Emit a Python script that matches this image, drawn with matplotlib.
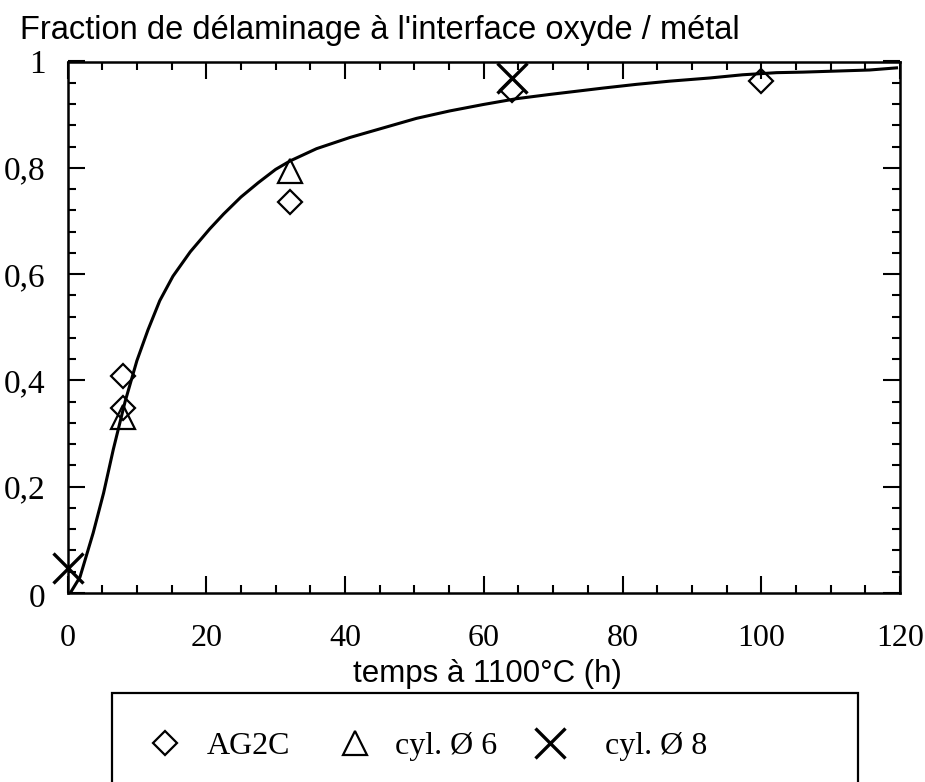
import matplotlib
matplotlib.use("Agg")
import matplotlib.pyplot as plt
from matplotlib.patches import Rectangle
from matplotlib.ticker import MultipleLocator, FuncFormatter

# Data
t_curve = [0.4, 1.8, 3.7, 5.2, 6.6, 8.3, 10.0, 11.6, 13.3, 15.2, 17.7, 20.5, 22.5, 25.0,
           27.5, 30.0, 32.1, 35.9, 40.7, 45.5, 50.3, 55.1, 59.9, 64.7, 69.5,
           77.2, 82.0, 86.8, 92.6, 97.3, 102.2, 106.0, 110.8, 115.6, 119.5]
f_curve = [0.0, 0.030, 0.113, 0.188, 0.270, 0.360, 0.437, 0.495, 0.550, 0.596, 0.642, 0.685, 0.713, 0.745,
           0.772, 0.797, 0.813, 0.836, 0.857, 0.875, 0.893, 0.907, 0.919, 0.930, 0.938,
           0.950, 0.957, 0.963, 0.969, 0.975, 0.979, 0.980, 0.982, 0.984, 0.988]

t_ag2c = [8, 8, 32, 64, 100]
f_ag2c = [0.409, 0.348, 0.735, 0.947, 0.963]

t_cyl6 = [8, 32]
f_cyl6 = [0.331, 0.794]

t_cyl8 = [0, 64]
f_cyl8 = [0.047, 0.969]

labels = ["AG2C", "cyl. \u00d8 6", "cyl. \u00d8 8"]
title = "Fraction de d\u00e9laminage \u00e0 l'interface oxyde / m\u00e9tal"
xlabel = "temps \u00e0 1100\u00b0C (h)"

W, H = 925, 782
fig = plt.figure(figsize=(W / 100, H / 100), dpi=100)
ax = fig.add_axes([67.5 / W, 1 - 593 / H, (900 - 67.5) / W, (593 - 61.5) / H])

ax.plot(t_curve, f_curve, color="black", lw=2.2, zorder=2)
h1, = ax.plot(t_ag2c, f_ag2c, ls="none", marker="D", ms=12, mfc="none", mec="black", mew=1.6,
              zorder=3, clip_on=False)
h2, = ax.plot(t_cyl6, f_cyl6, ls="none", marker="^", ms=17, mfc="none", mec="black", mew=1.6,
              zorder=3, clip_on=False)
h3, = ax.plot(t_cyl8, f_cyl8, ls="none", marker="x", ms=22, mfc="none", mec="black", mew=2.4,
              zorder=3, clip_on=False)

ax.set_xlim(0, 120)
ax.set_ylim(0, 1)
ax.xaxis.set_major_locator(MultipleLocator(20))
ax.xaxis.set_minor_locator(MultipleLocator(5))
ax.yaxis.set_major_locator(MultipleLocator(0.2))
ax.yaxis.set_minor_locator(MultipleLocator(0.04))

# "0" on the y axis is drawn separately (slightly lower in the original)
def yfmt(v, pos):
    if abs(v) < 1e-9:
        return ""
    if abs(v - 1) < 1e-9:
        return "1"
    return ("%.1f" % v).replace(".", ",")

ax.yaxis.set_major_formatter(FuncFormatter(yfmt))

for s in ax.spines.values():
    s.set_linewidth(1.8)

ax.tick_params(which="both", direction="in", top=True, right=True, width=1.5, color="black")
ax.tick_params(which="major", length=12)
ax.tick_params(which="minor", length=6)
ax.tick_params(axis="x", which="major", pad=22)
ax.tick_params(axis="y", which="major", pad=16)
for lab in ax.get_xticklabels():
    lab.set_family("Liberation Serif")
    lab.set_fontsize(23)
for lab in ax.get_yticklabels():
    lab.set_family("Liberation Serif")
    lab.set_fontsize(24)

ax.annotate("0", xy=(0, 0), xytext=(-16, -4), xycoords=("axes fraction", "data"),
            textcoords="offset points", ha="right", va="center",
            family="Liberation Serif", fontsize=24)

fig.text(20 / W, 1 - 30 / H, title, family="Liberation Sans", fontsize=23.5, ha="left", va="center")
fig.text(487 / W, 1 - 674 / H, xlabel, family="Liberation Sans", fontsize=22.5, ha="center", va="center")

# legend box
rect = Rectangle((112 / W, -0.05), (858 - 112) / W, (1 - 693 / H) + 0.05, transform=fig.transFigure,
                 fill=False, ec="black", lw=1.6, clip_on=False)
fig.patches.append(rect)

fs = 23
fs_px = fs * 100 / 72.0
L = 1.0
handles = [h1, h2, h3]
marker_x = [165, 355, 550]
text_gap = [42, 40, 55]
for h, lab, mx, gap in zip(handles, labels, marker_x, text_gap):
    left = mx - L * fs_px / 2
    pad = (gap - L * fs_px / 2) / fs_px
    fig.legend([h], [lab], loc="center left", bbox_to_anchor=(left / W, 1 - 746 / H),
               frameon=False, prop={"family": "Liberation Serif", "size": fs},
               handletextpad=pad, handlelength=L, borderpad=0, borderaxespad=0)

fig.savefig("out.png", dpi=100)
